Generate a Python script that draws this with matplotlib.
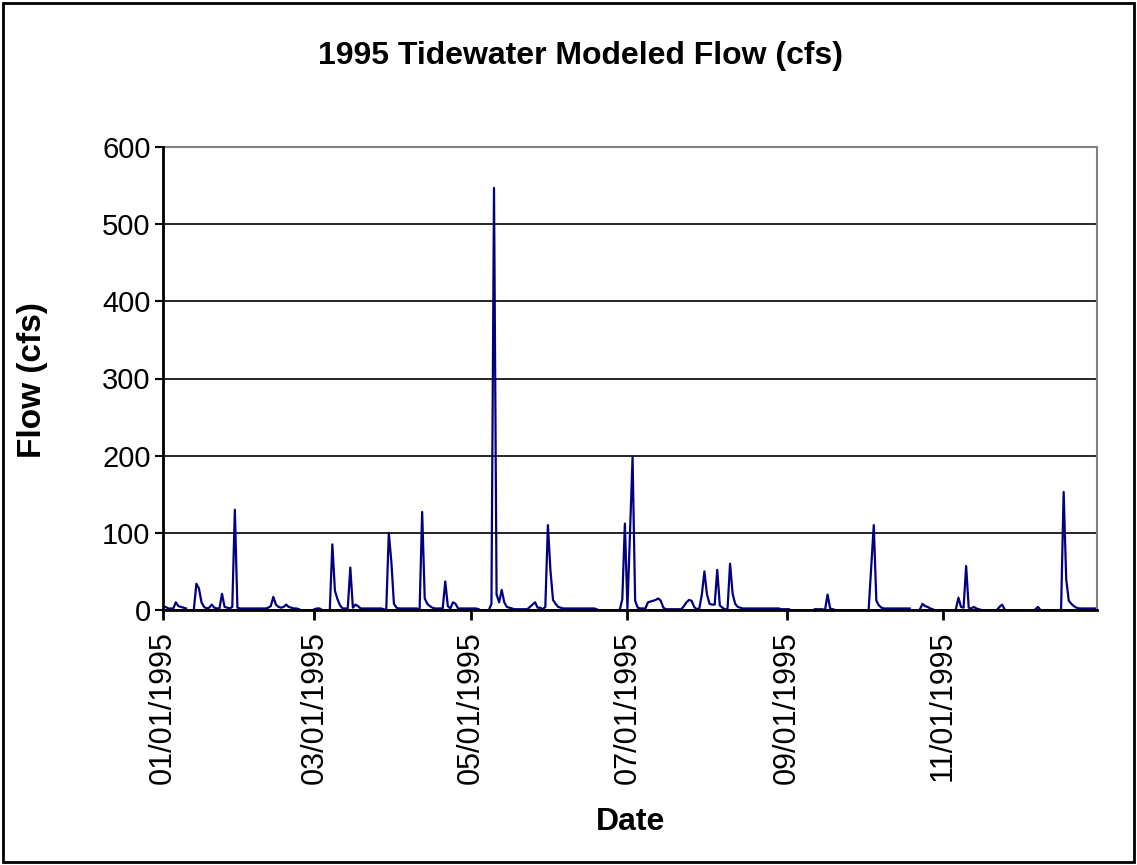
import numpy as np
import pandas as pd
import matplotlib
matplotlib.use("Agg")
import matplotlib.pyplot as plt
import matplotlib.dates as mdates
from matplotlib.patches import Rectangle

plt.rcParams['font.family'] = ['Liberation Sans', 'DejaVu Sans']

nan = np.nan

# daily modeled flow (cfs), 1995; nan = no line drawn
jan = [4, 4, 2, 2, 2, 10, 5, 4, 3, 2, nan, nan, 0, 34, 28, 10, 4, 2, 3, 7,
       3, 2, 2, 21, 4, 3, 2, 4, 130, 3, 2]
feb = [2, 2, 2, 2, 2, 2, 2, 2, 2, 2, 3, 5, 17, 7, 4, 3, 4, 7, 4, 3,
       2, 2, 1, nan, nan, nan, nan, nan]
mar = [1, 2, 2, 0, nan, nan, 0, 85, 25, 14, 6, 2, 2, 2, 55, 3, 7, 5, 2, 2,
       2, 2, 2, 2, 2, 2, 2, 1, 0, 100, 62]
apr = [8, 3, 2, 2, 2, 2, 2, 2, 2, 2, 0, 127, 15, 8, 5, 3, 2, 2, 2, 2,
       37, 5, 2, 10, 8, 2, 2, 2, 2, 2]
may = [2, 2, 2, 1, nan, nan, nan, 0, 8, 547, 20, 10, 26, 10, 4, 3, 2, 1, 1, 1,
       1, 1, 1, 4, 7, 10, 3, 3, 1, 4, 110]
jun = [51, 13, 8, 4, 3, 2, 2, 2, 2, 2, 2, 2, 2, 2, 2, 2, 2, 2, 1, nan,
       nan, nan, nan, nan, nan, nan, nan, 0, 14, 112]
jul = [2, 100, 198, 12, 3, 2, 2, 2, 10, 11, 12, 13, 15, 12, 3, 1, 1, 1, 1, 1,
       1, 1, 5, 10, 13, 12, 4, 1, 2, 20, 50]
aug = [20, 8, 7, 7, 52, 6, 3, 1, 1, 60, 21, 8, 4, 3, 2, 2, 2, 2, 2, 2,
       2, 2, 2, 2, 2, 2, 2, 2, 2, 1, 1]
sep = [1, 1, nan, nan, nan, nan, nan, nan, nan, nan, nan, 1, 1, 1, 1, 0, 20, 2, 1, 0,
       nan, nan, nan, nan, nan, nan, nan, nan, nan, nan]
oct_ = [nan, nan, 0, 55, 110, 12, 6, 3, 2, 2, 2, 2, 2, 2, 2, 2, 2, 2, 2, nan,
        nan, nan, 1, 8, 5, 4, 2, 1, nan, nan, nan]
nov = [nan, nan, nan, nan, nan, 1, 16, 4, 3, 57, 3, 2, 4, 2, 1, 0, nan, nan, nan, nan,
       nan, 0, 4, 7, 1, nan, nan, nan, nan, nan]
dec = [nan, nan, nan, nan, nan, nan, 1, 4, 0, nan, nan, nan, nan, nan, nan, nan, 0, 153, 40, 12,
       8, 5, 3, 2, 2, 2, 2, 2, 2, 2, 2]

flow = jan + feb + mar + apr + may + jun + jul + aug + sep + oct_ + nov + dec
dates = pd.date_range('1995-01-01', periods=len(flow), freq='D')

y_ticks = [0, 100, 200, 300, 400, 500, 600]

fig = plt.figure(figsize=(11.37, 8.65), dpi=100)
ax = fig.add_axes([163 / 1137, 1 - 610 / 865, (1097 - 163) / 1137, (610 - 147) / 865])

ax.plot(dates, flow, color='#000080', lw=1.6, zorder=2)

ax.set_ylim(0, 600)
ax.set_xlim(pd.Timestamp('1995-01-01'), pd.Timestamp('1995-12-31'))
ax.set_yticks(y_ticks)
ax.yaxis.grid(True, color='black', lw=1.2)
ax.set_axisbelow(True)

ax.xaxis.set_major_locator(mdates.MonthLocator(bymonth=[1, 3, 5, 7, 9, 11]))
ax.xaxis.set_major_formatter(mdates.DateFormatter('%m/%d/%Y'))
plt.setp(ax.get_xticklabels(), rotation=90)

ax.tick_params(axis='y', labelsize=21, length=6, width=1.5, direction='out', pad=3)
ax.tick_params(axis='x', labelsize=22, length=7, width=2, direction='out', pad=8)

for side in ['left', 'bottom']:
    ax.spines[side].set_linewidth(2)
    ax.spines[side].set_color('black')
    ax.spines[side].set_zorder(3)
for side in ['top', 'right']:
    ax.spines[side].set_linewidth(1.5)
    ax.spines[side].set_color('#808080')

fig.text(580 / 1137, 1 - 56 / 865, '1995 Tidewater Modeled Flow (cfs)', ha='center', va='center',
         fontsize=23, fontweight='bold')
fig.text(33 / 1137, 1 - 380 / 865, 'Flow (cfs)', ha='center', va='center', rotation=90,
         fontsize=24, fontweight='bold')
fig.text(631 / 1137, 1 - 822 / 865, 'Date', ha='center', va='center',
         fontsize=23, fontweight='bold')

fig.patches.append(Rectangle((0.003, 0.003), 0.994, 0.994, transform=fig.transFigure,
                             fill=False, edgecolor='black', lw=2))

fig.savefig('out.png', dpi=100)
